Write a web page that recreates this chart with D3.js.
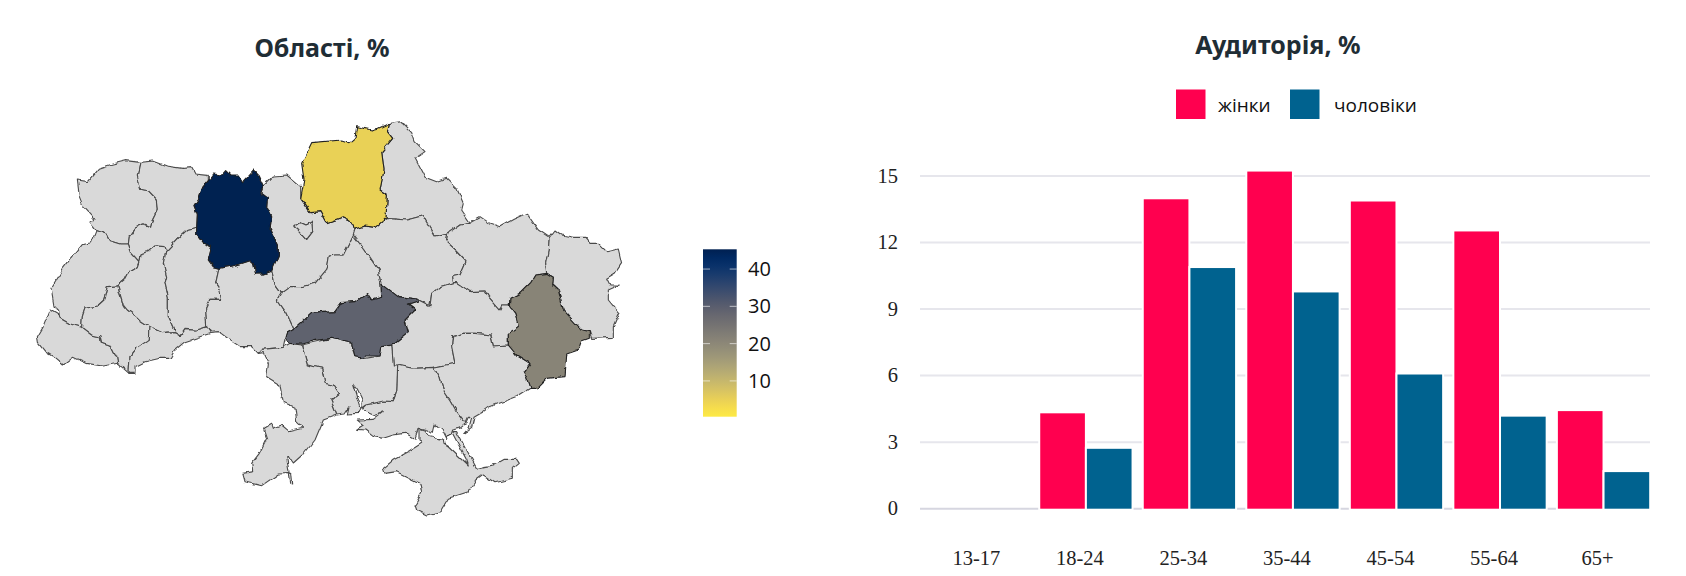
<!DOCTYPE html>
<html><head><meta charset="utf-8">
<script src="https://cdn.jsdelivr.net/npm/d3@7/dist/d3.min.js"></script>
<style>html,body{margin:0;padding:0;background:#fff}svg{display:block}</style>
</head><body><svg id="c" width="1686" height="576"></svg>
<script>
// ---- data ----
const ageGroups = ["13-17","18-24","25-34","35-44","45-54","55-64","65+"];
const women = [0,4.3,13.95,15.2,13.85,12.5,4.4];
const men   = [0,2.7,10.85,9.75,6.05,4.15,1.65];
const yTicks = [0,3,6,9,12,15];
const seriesNames = ["жінки","чоловіки"];
const seriesColors = ["#ff004f","#00628f"];
const barTitle = "Аудиторія, %";
const mapTitle = "Області, %";
const colorTicks = [10,20,30,40];
const colorDomain = [0.4,45.3];
const regionValues = {zhytomyr:45.3, chernihiv:5, kirovohrad:29, donetsk:21};
// Outlines, in three map sheets: W, E, S
const sheetOffsets = {W:[0,0],E:[840,0],S:[600,720]};
const regionOutlines = {
 volyn:[["W",172,240,205,245,238,205,275,193,318,182,360,187,352,225,362,268,385,272,412,300,415,325,395,365,392,382,370,372,345,385,328,410,325,432,300,432,268,422,258,402,228,392,210,368,225,358,190,320,178,290]],
 rivne:[["W",360,187,400,183,440,198,490,205,515,203,525,222,565,226,565,242,548,262,535,300,522,320,532,345,530,385,500,392,480,410,437,455,432,440,405,438,385,455,360,462,357,485,335,460,325,432,328,410,345,385,370,372,392,382,395,365,415,325,412,300,385,272,362,268,352,225]],
 lviv:[["W",228,392,258,402,268,422,300,432,325,432,335,460,357,485,352,500,328,515,315,540,293,558,265,560,255,600,235,618,195,625,187,650,185,682,150,672,120,655,115,630,102,618,93,565,130,505,165,460,190,430,215,425]],
 zakarpattia:[["W",90,630,115,645,120,655,150,672,185,682,215,705,240,710,245,730,275,740,290,770,293,790,250,798,200,790,160,772,130,795,100,770,75,755,55,730,52,710,70,680]],
 frankivsk:[["W",185,682,187,650,195,625,235,618,255,600,265,560,293,558,310,615,322,630,350,650,360,660,390,680,388,718,350,745,330,770,327,820,293,790,290,770,275,740,245,730,240,710,215,705]],
 ternopil:[["W",293,558,315,540,328,515,352,500,357,485,360,462,385,455,405,438,432,440,437,455,430,490,440,530,435,550,445,590,445,650,465,695,430,698,390,680,360,660,350,650,322,630,310,615]],
 chernivtsi:[["W",390,680,430,698,465,695,482,706,495,688,530,690,560,680,572,700,535,712,495,725,465,750,450,775,420,775,375,785,345,800,345,820,327,820,330,770,350,745,388,718]],
 khmelnytskyi:[["W",530,385,530,405,550,430,575,440,565,480,580,500,597,505,587,550,600,570,605,598,570,598,557,625,560,680,530,690,495,688,482,706,465,695,445,650,445,590,435,550,440,530,430,490,437,455,480,410,500,392]],
 vinnytsia:[["W",597,505,650,495,690,482,700,490,707,522,730,522,755,512,765,550,785,578,772,600,800,640,822,688,800,700,795,720,790,742,725,748,715,760,695,740,660,740,630,720,600,698,572,700,560,680,557,625,570,598,605,598,600,570,587,550]],
 kyiv:[["W",730,258,760,228,800,225,842,260,842,295,"E",2,295,30,335,60,332,80,368,130,350,150,360,165,388,160,405,130,465,105,465,85,468,78,510,45,550,5,560,"W",810,560,785,578,765,550,755,512,775,465,775,435,750,385,755,350,740,320,742,295,722,280],
       ["W",822,380,840,368,855,375,875,362,878,395,860,418,835,390]],
 kyivCity:[["W",822,380,840,368,855,375,875,362,878,395,860,418,835,390]],
 cherkasy:[["W",772,600,785,578,810,560,"E",5,560,45,550,78,510,85,468,105,465,130,465,160,405,195,450,235,510,243,550,245,592,215,600,200,578,165,605,125,608,105,635,35,640,"W",822,688,800,640]],
 sumy:[["E",268,70,305,65,335,95,345,125,375,155,345,175,375,232,410,245,440,235,470,265,490,310,485,330,510,367,480,372,440,400,405,408,368,347,320,360,258,355,262,285,240,270,252,210,245,155,278,115,262,95]],
 poltava:[["E",165,388,195,378,225,382,258,355,320,360,368,347,405,408,440,400,437,425,465,450,498,485,480,525,455,530,458,548,420,560,395,580,390,617,350,597,295,590,243,550,235,510,195,450,160,405]],
 kharkiv:[["E",510,367,540,350,570,370,600,380,640,358,680,340,715,390,748,412,745,450,737,490,740,520,705,525,690,550,660,580,630,595,628,618,605,618,600,630,565,590,555,573,510,575,470,548,458,548,455,530,480,525,498,485,465,450,437,425,440,400,480,372]],
 luhansk:[["E",748,412,765,390,785,405,820,412,855,412,870,430,895,430,920,455,955,447,965,490,945,520,920,535,930,555,958,555,925,570,925,600,958,640,940,680,940,712,875,715,868,695,845,690,790,630,775,570,758,555,760,532,740,520,737,490,745,450]],
 dnipro:[["E",390,617,395,580,420,560,458,548,470,548,510,575,555,573,565,590,600,630,605,618,628,618,645,640,655,680,625,700,625,735,580,738,572,705,525,700,490,700,458,710,455,740,465,790,400,802,345,805,280,795,275,735,325,695,315,660,345,630,325,615,355,605,350,597]],
 zaporizhzhia:[["E",400,802,465,790,455,740,458,710,490,700,525,700,572,705,580,738,625,735,650,765,690,790,670,818,680,835,690,865,"S",890,170,850,185,810,200,790,215,762,232,755,262,730,280,745,262,752,235,745,235,738,250,710,215,690,180,670,150,660,115,640,82]],
 kherson:[["S",533,75,580,85,640,82,660,115,670,150,690,180,710,215,730,240,738,250,720,265,695,270,690,285,680,295,665,265,645,258,640,280,625,270,605,265,595,265,585,295,555,280,520,285,490,295,460,290,435,270,410,268,430,255,412,240,460,238,490,215,460,225,425,210,440,195,490,183,520,185,530,150]],
 mykolaiv:[["S",245,15,335,-5,395,10,405,50,435,55,480,48,485,20,515,15,520,75,533,75,530,150,520,185,490,183,440,195,425,205,427,180,412,150,398,132,408,165,420,205,415,220,385,222,390,200,375,222,350,225,332,180,358,160,340,135,315,130,305,85,262,75]],
 odesa:[["S",115,40,125,28,190,22,210,10,245,15,262,75,305,85,315,130,340,135,358,160,332,180,350,225,310,240,285,300,250,345,220,372,205,350,200,350,212,430,218,432,215,400,175,402,125,437,75,425,68,400,98,395,95,370,118,340,140,295,130,265,155,250,160,265,185,255,205,272,248,262,230,245,225,205,190,190,180,135,140,110,145,70,130,38]],
 crimea:[["S",597,265,615,270,630,290,650,295,670,298,672,310,685,318,745,375,740,360,695,275,710,275,770,385,790,380,820,375,850,358,890,358,898,370,880,385,880,415,825,428,790,405,770,420,745,455,685,475,660,515,620,525,590,510,585,495,605,460,600,430,570,415,530,395,495,400,490,385,520,360,565,335,605,310,597,300]]
 ,
 kirovohrad:[["W",822,688,"E",35,640,105,635,125,608,165,605,200,578,215,600,245,592,243,550,295,590,350,597,355,605,325,615,345,630,315,660,325,695,275,735,245,740,240,768,195,768,190,775,165,770,155,730,95,715,40,722,5,732,"W",810,730,795,715,800,700]],
 chernihiv:[["E",268,70,235,85,215,90,170,80,165,115,150,128,125,120,35,128,5,190,12,240,2,295,30,335,60,332,80,368,130,350,150,360,165,388,195,378,225,382,258,355,262,285,240,270,252,210,245,155,278,115,262,95]],
 zhytomyr:[["W",565,242,580,222,605,225,617,212,630,225,655,225,668,245,700,210,715,225,730,258,722,280,742,295,740,320,755,350,750,385,775,435,775,465,755,512,730,522,707,522,700,490,690,482,650,495,597,505,580,500,565,480,575,440,550,430,530,405,530,385,532,345,522,320,535,300,548,262]],
 donetsk:[["E",740,520,760,532,758,555,775,570,790,630,845,690,868,695,868,712,845,720,835,750,800,762,795,830,740,835,710,865,690,865,680,835,670,818,690,790,650,765,625,735,625,700,655,680,645,640,628,618,630,595,660,580,690,550,705,525]]
};
// ---- build ----
function ringFrom(list){
  const pts=[]; let off=[0,0], i=0;
  while(i<list.length){
    if(typeof list[i]==="string"){off=sheetOffsets[list[i]];i++;continue;}
    pts.push([list[i]+off[0],list[i+1]+off[1]]); i+=2;
  }
  pts.push(pts[0]); return pts;
}
const features = Object.entries(regionOutlines).map(([id,rings])=>({type:"Feature",id,
  geometry:{type:"Polygon",coordinates:rings.map(ringFrom)}}));
const svg = d3.select("#c");
const titleFont = "'Noto Sans',sans-serif";
const defs = svg.append("defs");
// hand-drawn wiggle of the traced borders
const wob = defs.append("filter").attr("id","wob").attr("x","-5%").attr("y","-5%").attr("width","110%").attr("height","110%");
wob.append("feTurbulence").attr("type","fractalNoise").attr("baseFrequency",0.11).attr("numOctaves",2).attr("seed",4).attr("result","n");
wob.append("feDisplacementMap").attr("in","SourceGraphic").attr("in2","n").attr("scale",5).attr("xChannelSelector","R").attr("yChannelSelector","G").attr("result","d");
wob.append("feGaussianBlur").attr("in","d").attr("stdDeviation",0.35);
// map
const projection = d3.geoIdentity().scale(1/3).translate([20,100]);
const path = d3.geoPath(projection);
const color = d3.scaleSequential(t=>d3.interpolateCividis(1-t)).domain(colorDomain);
const mapG = svg.append("g").attr("filter","url(#wob)");
const ordered = features.slice().sort((a,b)=>(regionValues[a.id]?1:0)-(regionValues[b.id]?1:0));
mapG.selectAll("path").data(ordered).join("path")
  .attr("d",path)
  .attr("fill",d=>regionValues[d.id]!==undefined?color(regionValues[d.id]):"#d9d9d9")
  .attr("fill-rule","evenodd")
  .attr("stroke",d=>regionValues[d.id]!==undefined?"#222":"#4a4a4a")
  .attr("stroke-width",d=>regionValues[d.id]!==undefined?1.1:1.1)
  .attr("stroke-linejoin","round");
svg.append("text").text(mapTitle).attr("x",322).attr("y",57).attr("text-anchor","middle")
  .attr("font-family",titleFont).attr("font-weight",700).attr("font-size",25).attr("fill","#1f2d35");
// colour bar
const cbY = d3.scaleLinear().domain(colorDomain).range([416.7,249.3]);
const grad = defs.append("linearGradient").attr("id","cb").attr("x1",0).attr("x2",0).attr("y1",1).attr("y2",0);
d3.range(0,1.001,0.05).forEach(t=>grad.append("stop").attr("offset",t).attr("stop-color",d3.interpolateCividis(1-t)));
const cbX0=703,cbX1=736.7;
svg.append("rect").attr("x",cbX0).attr("width",cbX1-cbX0).attr("y",cbY(colorDomain[1])).attr("height",cbY(colorDomain[0])-cbY(colorDomain[1])).attr("fill","url(#cb)");
const cbT = svg.append("g").selectAll("g").data(colorTicks).join("g");
cbT.append("path").attr("d",d=>`M${cbX0},${cbY(d)}h7M${cbX1-7},${cbY(d)}h7`).attr("stroke","#fff").attr("stroke-opacity",.6).attr("stroke-width",1);
cbT.append("text").text(d=>d).attr("x",748).attr("y",d=>cbY(d)+7).attr("font-family","'Open Sans',sans-serif").attr("font-size",20).attr("fill","#111");
// bars
const x0 = d3.scaleBand().domain(ageGroups).range([930.6,1655.3]).paddingInner(.118).paddingOuter(.059);
const x1 = d3.scaleBand().domain(seriesNames).range([0,x0.bandwidth()]).paddingInner(.043);
const y = d3.scaleLinear().domain([0,15]).range([508.7,176]);
svg.append("g").selectAll("line").data(yTicks).join("line")
  .attr("x1",920).attr("x2",1650).attr("y1",d=>y(d)).attr("y2",d=>y(d))
  .attr("stroke",d=>d===0?"#d6d6e0":"#e6e6ec").attr("stroke-width",2);
svg.append("g").selectAll("text").data(yTicks).join("text").text(d=>d)
  .attr("x",898).attr("y",d=>y(d)+6.5).attr("text-anchor","end")
  .attr("font-family","'Liberation Serif',serif").attr("font-size",20.5).attr("fill","#222");
const rows = [women,men];
rows.forEach((vals,si)=>{
  const bars = vals.map((v,i)=>({v,a:ageGroups[i]})).filter(d=>d.v>0);
  const g = svg.append("g");
  g.selectAll("rect").data(bars).join("rect")
    .attr("x",d=>x0(d.a)+x1(seriesNames[si])).attr("width",x1.bandwidth())
    .attr("y",d=>y(d.v)).attr("height",d=>y(0)-y(d.v))
    .attr("fill",seriesColors[si]).attr("stroke","#fff").attr("stroke-width",4).attr("paint-order","stroke");
});
svg.append("g").selectAll("text").data(ageGroups).join("text").text(d=>d)
  .attr("x",d=>x0(d)+x0.bandwidth()/2-6).attr("y",564.5).attr("text-anchor","middle")
  .attr("font-family","'Liberation Serif',serif").attr("font-size",20.5).attr("fill","#222");
svg.append("text").text(barTitle).attr("x",1278).attr("y",54).attr("text-anchor","middle")
  .attr("font-family",titleFont).attr("font-weight",700).attr("font-size",25).attr("fill","#1f2d35");
// legend
const legendX=[1176,1290], legendTextX=[1218,1334];
seriesNames.forEach((n,i)=>{
  svg.append("rect").attr("x",legendX[i]).attr("y",89.5).attr("width",29.5).attr("height",29.5).attr("fill",seriesColors[i]);
  svg.append("text").text(n).attr("x",legendTextX[i]).attr("y",112).attr("font-family","'Open Sans',sans-serif").attr("font-size",19).attr("fill","#111");
});
</script></body></html>
